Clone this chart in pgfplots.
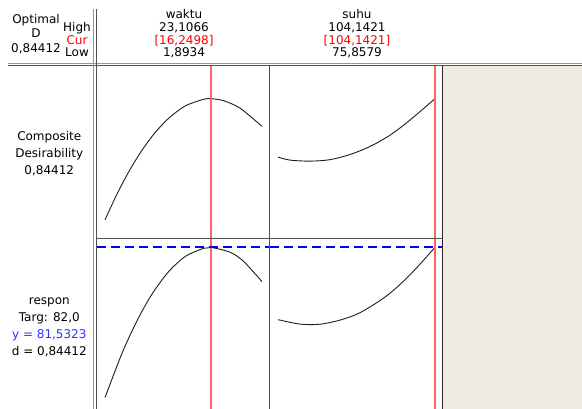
\documentclass[border=0pt]{standalone}
\usepackage{pgfplots}
\pgfplotsset{compat=1.18}
\usepackage{fontspec}
\setmainfont{DejaVu Sans}
\definecolor{beige}{RGB}{238,234,225}
\definecolor{lgray}{RGB}{150,150,150}
\definecolor{dgray}{RGB}{80,80,80}
\definecolor{curcol}{RGB}{255,100,100}
\definecolor{ycol}{RGB}{50,50,255}
\definecolor{dashblue}{RGB}{0,0,255}
\definecolor{curvec}{RGB}{30,30,30}
\pgfplotsset{panel/.style={scale only axis, hide axis, width=173pt, clip=true, anchor=south west},
  resp/.style={color=curvec, line width=0.9pt, smooth, no marks},
  cur/.style={color=curcol, line width=1.8pt, no marks},
  targ/.style={draw=dashblue, line width=2pt, dash pattern=on 9pt off 5pt, no marks}}
\begin{document}
\begin{tikzpicture}[x=1pt,y=1pt,font=\fontsize{12}{14}\selectfont]
\useasboundingbox (0,0) rectangle (582,409);
\fill[white] (0,0) rectangle (582,409);
\fill[beige] (443.3,0) rectangle (582,342.6);

% top row: composite desirability vs waktu
\begin{axis}[panel, at={(97pt,170.2pt)}, height=172.8pt, xmin=0.812, xmax=24.187, ymin=-0.1326, ymax=1.0723]
\addplot[resp] coordinates {(1.8934,0.000) (3.514,0.179) (5.095,0.334) (6.663,0.467) (8.473,0.596) (10.500,0.708) (12.743,0.794) (15.229,0.840) (16.2498,0.84412) (17.931,0.830) (20.174,0.777) (23.1066,0.651)};
\addplot[cur] coordinates {(16.2498,-0.3) (16.2498,1.3)};
\end{axis}
% top row: composite desirability vs suhu
\begin{axis}[panel, at={(270pt,170.2pt)}, height=172.8pt, xmin=74.387, xmax=105.613, ymin=-0.1326, ymax=1.0723]
\addplot[resp] coordinates {(75.8579,0.437) (77.997,0.416) (81.607,0.409) (85.217,0.419) (88.827,0.455) (92.437,0.511) (96.047,0.590) (99.657,0.695) (104.1421,0.84412)};
\addplot[cur] coordinates {(104.1421,-0.3) (104.1421,1.3)};
\end{axis}
% bottom row: respon vs waktu
\begin{axis}[panel, at={(97pt,0pt)}, height=170.2pt, xmin=0.812, xmax=24.187, ymin=78.802, ymax=81.6793]
\addplot[resp] coordinates {(1.8934,78.995) (3.960,79.673) (5.311,80.059) (6.892,80.454) (8.473,80.788) (10.500,81.125) (12.743,81.381) (15.229,81.519) (16.2498,81.5323) (18.82,81.451) (20.63,81.296) (23.1066,80.954)};
\addplot[cur] coordinates {(16.2498,78) (16.2498,82)};
\addplot[targ] coordinates {(0.812,81.5323) (24.187,81.5323)};
\end{axis}
% bottom row: respon vs suhu
\begin{axis}[panel, at={(270pt,0pt)}, height=170.2pt, xmin=74.387, xmax=105.613, ymin=78.802, ymax=81.6793]
\addplot[resp] coordinates {(75.8579,80.312) (79.802,80.237) (83.412,80.235) (87.022,80.305) (90.632,80.430) (95.451,80.715) (99.657,81.070) (104.1421,81.5323)};
\addplot[cur] coordinates {(104.1421,78) (104.1421,82)};
\addplot[targ] coordinates {(74.387,81.5323) (105.613,81.5323)};
\end{axis}

% frame lines
\draw[lgray, line width=1pt] (8,345.2) -- (582,345.2);
\draw[dgray, line width=1pt] (8,343.0) -- (582,343.0);
\draw[lgray, line width=1pt] (93.8,399.7) -- (93.8,0);
\draw[dgray, line width=1pt] (96.5,399.7) -- (96.5,0);
\draw[dgray, line width=1pt] (269.8,343) -- (269.8,0);
\draw[black!85, line width=1pt] (442.8,343) -- (442.8,0);
\draw[dgray, line width=1.3pt] (96.5,170.2) -- (442.8,170.2);

% header text
\node[anchor=base] at (36,385.7) {Optimal};
\node[anchor=base] at (36,371.7) {D};
\node[anchor=base] at (36,356.7) {0,84412};
\node[anchor=base] at (77,377.5) {High};
\node[anchor=base, text=red] at (77,364.8) {Cur};
\node[anchor=base] at (77,352.2) {Low};
\node[anchor=base] at (184,390) {waktu};
\node[anchor=base] at (184,377.3) {23,1066};
\node[anchor=base, text=red] at (184,364.7) {[16,2498]};
\node[anchor=base] at (184,352) {1,8934};
\node[anchor=base] at (357,390) {suhu};
\node[anchor=base] at (357,377.3) {104,1421};
\node[anchor=base, text=red] at (357,364.7) {[104,1421]};
\node[anchor=base] at (357,352) {75,8579};

% row labels
\node[anchor=base] at (49.3,268) {Composite};
\node[anchor=base] at (49.3,251.3) {Desirability};
\node[anchor=base] at (49.3,234.7) {0,84412};
\node[anchor=base] at (49.3,104) {respon};
\node[anchor=base] at (49.3,87) {Targ: 82,0};
\node[anchor=base, text=ycol] at (49.3,70) {y = 81,5323};
\node[anchor=base] at (49.3,53) {d = 0,84412};
\end{tikzpicture}
\end{document}
